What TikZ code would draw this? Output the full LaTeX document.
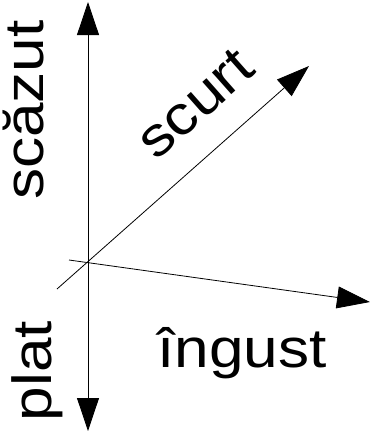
\documentclass[tikz,border=0pt]{standalone}
\usepackage{fontspec}
\setmainfont{Liberation Sans}[FakeStretch=1.13]
\usetikzlibrary{arrows.meta}
\begin{document}
\begin{tikzpicture}[x=1pt,y=-1pt,
  axis/.style={line width=0.8pt,draw=black},
  bigtip/.style={-{Triangle[length=33pt,width=22pt]}},
  lbl/.style={font=\fontsize{55}{60}\selectfont,inner sep=0pt,anchor=base}]
\useasboundingbox (0,0) rectangle (372,432);
\coordinate (vtop) at (88,2);
\coordinate (vbot) at (88,431);
\coordinate (hstart) at (69,260);
\coordinate (hend) at (370,302);
\coordinate (dstart) at (57,289);
\coordinate (dend) at (309,66);
\draw[axis,{Triangle[length=33pt,width=22pt]}-{Triangle[length=33pt,width=22pt]}] (vbot) -- (vtop);
\draw[axis,bigtip] (hstart) -- (hend);
\draw[axis,bigtip] (dstart) -- (dend);
\node[lbl,rotate=90] (scazut) at (44,110) {scăzut};
\node[lbl,rotate=90] (plat) at (51,371) {plat};
\node[lbl] (ingust) at (242,367) {îngust};
\node[lbl,rotate=41.5] (scurt) at (207,117) {scurt};
\end{tikzpicture}
\end{document}
